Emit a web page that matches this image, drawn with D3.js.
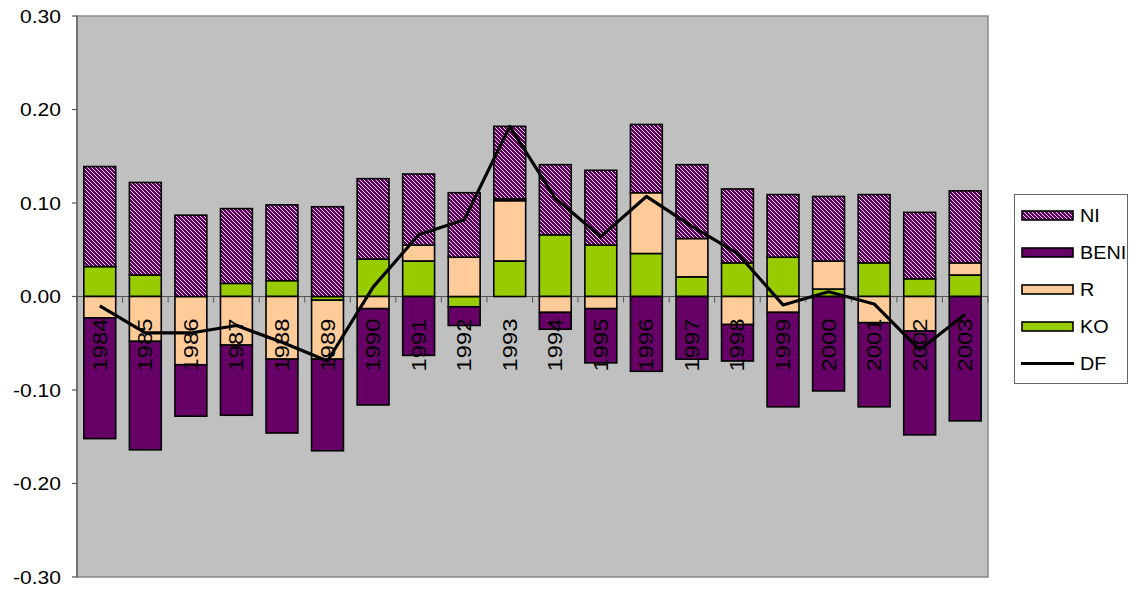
<!DOCTYPE html>
<html>
<head>
<meta charset="utf-8">
<script src="https://cdn.jsdelivr.net/npm/d3@7/dist/d3.min.js"></script>
<style>
  html, body { margin: 0; padding: 0; background: #ffffff; }
  svg { display: block; font-family: "Liberation Sans", Arial, sans-serif; }
</style>
</head>
<body>
<svg id="chart" width="1136" height="590"></svg>
<script>
// Yearly components (stacked) and their total DF
const years = ["1984","1985","1986","1987","1988","1989","1990","1991","1992","1993",
               "1994","1995","1996","1997","1998","1999","2000","2001","2002","2003"];
const KO   = [0.032, 0.023, 0.000, 0.014, 0.017, -0.004, 0.040, 0.038, -0.011, 0.038,
              0.066, 0.055, 0.046, 0.021, 0.036, 0.042, 0.008, 0.036, 0.019, 0.023];
const R    = [-0.023, -0.048, -0.073, -0.052, -0.067, -0.063, -0.013, 0.017, 0.042, 0.0645,
              -0.017, -0.013, 0.065, 0.041, -0.030, -0.017, 0.030, -0.028, -0.037, 0.013];
const BENI = [-0.129, -0.116, -0.055, -0.075, -0.079, -0.098, -0.103, -0.063, -0.020, 0.002,
              -0.018, -0.058, -0.080, -0.067, -0.039, -0.101, -0.101, -0.090, -0.111, -0.133];
const NI   = [0.107, 0.099, 0.087, 0.080, 0.081, 0.096, 0.086, 0.076, 0.069, 0.0775,
              0.075, 0.080, 0.073, 0.079, 0.079, 0.067, 0.069, 0.073, 0.071, 0.077];
const DF   = [-0.010, -0.039, -0.039, -0.031, -0.049, -0.069, 0.010, 0.066, 0.082, 0.182,
              0.105, 0.064, 0.107, 0.075, 0.046, -0.009, 0.005, -0.008, -0.057, -0.019];
const yTicks = [0.30, 0.20, 0.10, 0.00, -0.10, -0.20, -0.30];
const yTickLabels = ["0.30", "0.20", "0.10", "0.00", "-0.10", "-0.20", "-0.30"];
const seriesKeys = ["KO", "R", "BENI", "NI"];
const seriesValues = { KO, R, BENI, NI };

const plot = { left: 77, top: 16, right: 988, bottom: 577 };
const svg = d3.select("#chart");

// Hatch pattern for NI: dark purple with one-pixel light diagonal stripes
const defs = svg.append("defs");
const pat = defs.append("pattern")
  .attr("id", "hatchNI")
  .attr("patternUnits", "userSpaceOnUse")
  .attr("width", 4).attr("height", 4);
pat.append("rect").attr("width", 4).attr("height", 4).attr("fill", "#660066")
  .attr("shape-rendering", "crispEdges");
pat.selectAll("rect.px").data(d3.range(4)).join("rect")
  .attr("class", "px")
  .attr("x", d => d).attr("y", d => d)
  .attr("width", 1).attr("height", 1)
  .attr("fill", "#f0e0f0")
  .attr("shape-rendering", "crispEdges");

const fills = { KO: "#99CC00", R: "#FFCC99", BENI: "#660066", NI: "url(#hatchNI)" };

const x = d3.scaleBand().domain(years).range([plot.left, plot.right])
  .paddingInner(0.3).paddingOuter(0.15);
const y = d3.scaleLinear().domain([-0.3, 0.3]).range([plot.bottom, plot.top]);

// Plot area
svg.append("rect")
  .attr("x", plot.left).attr("y", plot.top)
  .attr("width", plot.right - plot.left).attr("height", plot.bottom - plot.top)
  .attr("fill", "#C0C0C0").attr("stroke", "#8a8a8a").attr("stroke-width", 1.5);

// Category axis along zero
const y0 = y(0);
svg.append("line")
  .attr("x1", plot.left).attr("x2", plot.right)
  .attr("y1", y0).attr("y2", y0)
  .attr("stroke", "#555").attr("stroke-width", 1);
const step = x.step();
const bounds = d3.range(years.length + 1).map(i => plot.left + i * step);
svg.append("g").selectAll("line").data(bounds).join("line")
  .attr("x1", d => d).attr("x2", d => d)
  .attr("y1", y0).attr("y2", y0 + 6)
  .attr("stroke", "#555").attr("stroke-width", 1);

// Stacked bars (positives up, negatives down)
const table = years.map((yr, i) => {
  const row = { year: yr };
  seriesKeys.forEach(k => row[k] = seriesValues[k][i]);
  return row;
});
const stacked = d3.stack().keys(seriesKeys).offset(d3.stackOffsetDiverging)(table);

svg.append("g").selectAll("g").data(stacked).join("g")
  .attr("fill", d => fills[d.key])
  .selectAll("rect").data(d => d.filter(s => s[1] !== s[0])).join("rect")
  .attr("x", d => x(d.data.year))
  .attr("width", x.bandwidth())
  .attr("y", d => y(Math.max(d[0], d[1])))
  .attr("height", d => Math.abs(y(d[0]) - y(d[1])))
  .attr("stroke", "#000").attr("stroke-width", 1.6);

// Year labels, rotated, just below the zero line
svg.append("g").selectAll("text").data(years).join("text")
  .attr("transform", d => `translate(${x(d) + x.bandwidth() / 2 + 7},${y0 + 22}) rotate(-90) scale(1.22,1)`)
  .attr("text-anchor", "end")
  .attr("font-size", 19.5)
  .attr("fill", "#000")
  .text(d => d);

// DF line
const line = d3.line()
  .x((d, i) => x(years[i]) + x.bandwidth() / 2)
  .y(d => y(d));
svg.append("path")
  .datum(DF)
  .attr("d", line)
  .attr("fill", "none")
  .attr("stroke", "#000")
  .attr("stroke-width", 3.2)
  .attr("stroke-linejoin", "round");

// Value axis
svg.append("line")
  .attr("x1", plot.left).attr("x2", plot.left)
  .attr("y1", plot.top).attr("y2", plot.bottom)
  .attr("stroke", "#555").attr("stroke-width", 1.2);
const yAxis = svg.append("g");
yAxis.selectAll("line").data(yTicks).join("line")
  .attr("x1", plot.left - 5).attr("x2", plot.left)
  .attr("y1", d => y(d)).attr("y2", d => y(d))
  .attr("stroke", "#555").attr("stroke-width", 1.2);
yAxis.selectAll("text").data(yTicks).join("text")
  .attr("transform", d => `translate(61,${y(d) + 6.5}) scale(1.17,1)`)
  .attr("text-anchor", "end")
  .attr("font-size", 18)
  .attr("fill", "#000")
  .text((d, i) => yTickLabels[i]);

// Legend
const legendItems = ["NI", "BENI", "R", "KO", "DF"];
const legend = svg.append("g");
legend.append("rect")
  .attr("x", 1014.5).attr("y", 194.5).attr("width", 113).attr("height", 189)
  .attr("fill", "#fff").attr("stroke", "#666").attr("stroke-width", 1);
legendItems.forEach((k, i) => {
  const cy = 215.5 + i * 37;
  if (k === "DF") {
    legend.append("line")
      .attr("x1", 1021).attr("x2", 1074).attr("y1", cy).attr("y2", cy)
      .attr("stroke", "#000").attr("stroke-width", 3.2);
  } else {
    legend.append("rect")
      .attr("x", 1022).attr("y", cy - 4.5).attr("width", 51).attr("height", 9)
      .attr("fill", fills[k]).attr("stroke", "#000").attr("stroke-width", 1.6);
  }
  legend.append("text")
    .attr("transform", `translate(1080,${cy + 6.5}) scale(1.1,1)`)
    .attr("font-size", 18)
    .attr("fill", "#000")
    .text(k);
});
</script>
</body>
</html>
